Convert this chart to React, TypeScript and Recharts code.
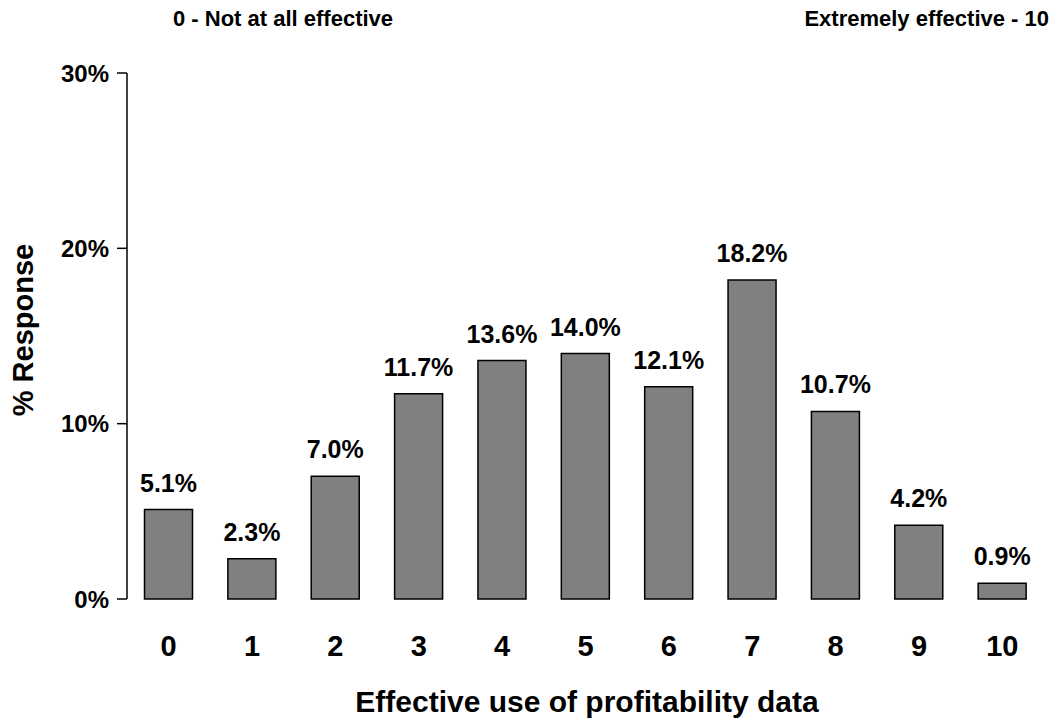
import React from "react";
import { BarChart, Bar, XAxis, YAxis, LabelList } from "recharts";

const categories = ["0", "1", "2", "3", "4", "5", "6", "7", "8", "9", "10"];
const values = [5.1, 2.3, 7.0, 11.7, 13.6, 14.0, 12.1, 18.2, 10.7, 4.2, 0.9];
const yTicks = [0, 10, 20, 30];
const boundaryTicks = [-0.5, 0.5, 1.5, 2.5, 3.5, 4.5, 5.5, 6.5, 7.5, 8.5, 9.5, 10.5];

const data = categories.map((c, i) => ({ cat: c, value: values[i] }));

const FONT = "'Liberation Sans', Arial, sans-serif";

export default function App() {
  return (
    <div style={{ position: "absolute", left: 0, top: 0, width: 1060, height: 723, background: "#fff", fontFamily: FONT }}>
      <BarChart
        width={1060}
        height={723}
        data={data}
        margin={{ top: 73, right: 16, bottom: 94, left: 0 }}
        barCategoryGap="21%"
      >
        <XAxis
          xAxisId="cat"
          dataKey="cat"
          type="category"
          axisLine={false}
          tickLine={false}
          tickSize={0}
          tickMargin={36}
          interval={0}
          tick={{ fill: "#000", fontSize: 29, fontWeight: "bold", fontFamily: FONT }}
        />
        <XAxis
          xAxisId="ticks"
          type="number"
          domain={[-0.5, 10.5]}
          ticks={boundaryTicks}
          allowDataOverflow
          axisLine={{ stroke: "#000", strokeWidth: 1.5 }}
          tickLine={{ stroke: "#000", strokeWidth: 1.5 }}
          tickSize={11}
          tick={false}
          height={0}
        />
        <YAxis
          type="number"
          domain={[0, 30]}
          ticks={yTicks}
          width={127}
          axisLine={{ stroke: "#000", strokeWidth: 1.5 }}
          tickLine={{ stroke: "#000", strokeWidth: 1.5 }}
          tickSize={10}
          tickMargin={8}
          tickFormatter={(v: number) => `${v}%`}
          tick={{ fill: "#000", fontSize: 24, fontWeight: "bold", fontFamily: FONT }}
        />
        <Bar xAxisId="cat" dataKey="value" fill="#808080" stroke="#000" strokeWidth={1.5} isAnimationActive={false}>
          <LabelList
            dataKey="value"
            position="top"
            offset={18}
            formatter={(v: number) => `${v.toFixed(1)}%`}
            style={{ fill: "#000", fontSize: 25, fontWeight: "bold", fontFamily: FONT }}
          />
        </Bar>
      </BarChart>
      <div style={{ position: "absolute", left: 173, top: 6, fontSize: 22, fontWeight: "bold", whiteSpace: "nowrap" }}>
        0 - Not at all effective
      </div>
      <div style={{ position: "absolute", right: 11, top: 6, fontSize: 22, fontWeight: "bold", whiteSpace: "nowrap" }}>
        Extremely effective - 10
      </div>
      <div style={{ position: "absolute", left: 0, width: 1174, top: 685, textAlign: "center", fontSize: 30, fontWeight: "bold", whiteSpace: "nowrap" }}>
        Effective use of profitability data
      </div>
      <div
        style={{
          position: "absolute",
          left: 23,
          top: 330,
          transform: "translate(-50%, -50%) rotate(-90deg)",
          fontSize: 29,
          fontWeight: "bold",
          whiteSpace: "nowrap",
        }}
      >
        % Response
      </div>
    </div>
  );
}
